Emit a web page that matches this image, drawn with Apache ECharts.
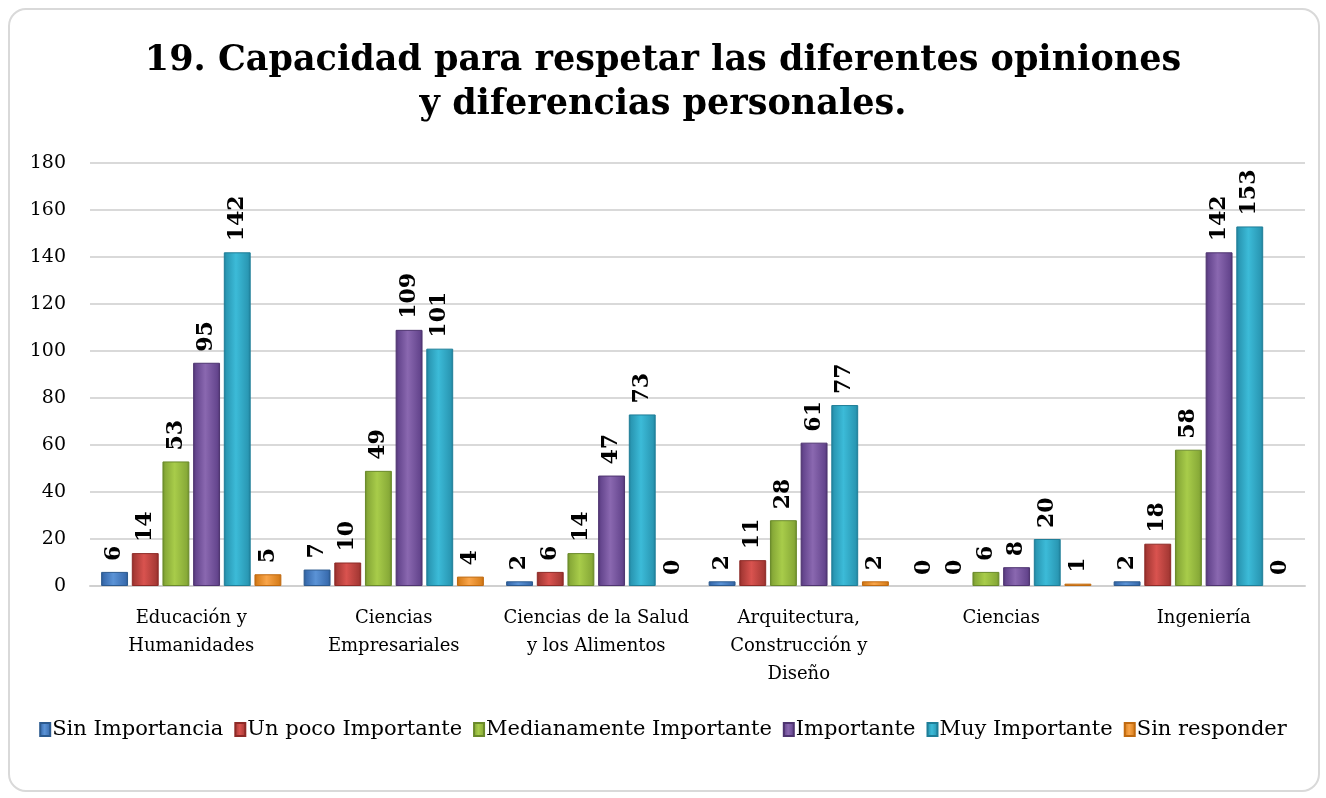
<!DOCTYPE html>
<html><head><meta charset="utf-8">
<script src="https://cdn.jsdelivr.net/npm/echarts@6/dist/echarts.min.js"></script>
<style>
html,body{margin:0;padding:0;background:#fff;}
#wrap{position:absolute;left:8px;top:8px;width:1308px;height:780px;border:2px solid #d9d9d9;border-radius:18px;background:#fff;}
#chart{position:absolute;left:0;top:0;width:1326px;height:798px;}
</style></head>
<body>
<div id="wrap"></div>
<div id="chart"></div>
<script>
const categories = ["Educación y\nHumanidades","Ciencias\nEmpresariales","Ciencias de la Salud\ny los Alimentos","Arquitectura,\nConstrucción y\nDiseño","Ciencias","Ingeniería"];
const seriesNames = ["Sin Importancia","Un poco Importante","Medianamente Importante","Importante","Muy Importante","Sin responder"];
const sinImportancia = [6,7,2,2,0,2];
const unPocoImportante = [14,10,6,11,0,18];
const medianamenteImportante = [53,49,14,28,6,58];
const importante = [95,109,47,61,8,142];
const muyImportante = [142,101,73,77,20,153];
const sinResponder = [5,4,0,2,1,0];
const yTicks = [0,20,40,60,80,100,120,140,160,180];

const values = [sinImportancia,unPocoImportante,medianamenteImportante,importante,muyImportante,sinResponder];
const colors = [
  ["#2c5a8f","#5b93d6","#3a6db0"],
  ["#8e2a27","#d9534f","#a83a36"],
  ["#6a8a2a","#a8cc4a","#88aa38"],
  ["#4e3470","#8a68b0","#65468e"],
  ["#1f7e98","#3cbbd8","#2a98b4"],
  ["#c06a10","#f9a54a","#d9801e"]
];
const serif = "'DejaVu Serif', 'Liberation Serif', serif";
const chart = echarts.init(document.getElementById('chart'));
const series = values.map((v,i)=>({
  name: seriesNames[i],
  type:'bar',
  data:v.map(x=> x===0 ? {value:x,itemStyle:{borderWidth:0,opacity:0}} : x),
  barGap:'14%',
  barCategoryGap:'11%',
  itemStyle:{
    color:new echarts.graphic.LinearGradient(0,0,1,0,[
      {offset:0,color:colors[i][0]},
      {offset:0.1,color:colors[i][2]},
      {offset:0.45,color:colors[i][1]},
      {offset:0.9,color:colors[i][2]},
      {offset:1,color:colors[i][0]}
    ]),
    borderColor:colors[i][0],
    borderWidth:1
  },
  label:{
    show:true,
    position:'top',
    rotate:90,
    align:'left',
    verticalAlign:'middle',
    distance:11,
    fontFamily:serif,
    fontWeight:'bold',
    fontSize:22,
    color:'#000',
    opacity:1
  }
}));
chart.setOption({
  animation:false,
  color:colors.map(c=>c[2]),
  title:{
    text:'19. Capacidad para respetar las diferentes opiniones\ny diferencias personales.',
    left:'center',
    top:34,
    textStyle:{fontFamily:serif,fontWeight:'bold',fontSize:35,lineHeight:44,color:'#000',align:'center'}
  },
  legend:{
    bottom:53,
    left:'center',
    itemWidth:10,
    itemHeight:13,
    itemGap:11,
    icon:'rect',
    textStyle:{fontFamily:serif,fontSize:21,color:'#000',padding:[0,0,0,-3]}
  },
  grid:{left:90,right:21,top:163,bottom:212},
  xAxis:{
    type:'category',
    data:categories,
    axisTick:{show:false},
    axisLine:{lineStyle:{color:'#d0d0d0',width:2}},
    axisLabel:{fontFamily:serif,fontSize:18,color:'#000',lineHeight:28,margin:18,interval:0}
  },
  yAxis:{
    type:'value',
    min:0,max:180,interval:20,
    axisLine:{show:false},
    axisTick:{show:false},
    splitLine:{lineStyle:{color:'#d9d9d9',width:2}},
    axisLabel:{fontFamily:serif,fontSize:19,color:'#000',margin:24}
  },
  series:series
});
</script>
</body></html>
